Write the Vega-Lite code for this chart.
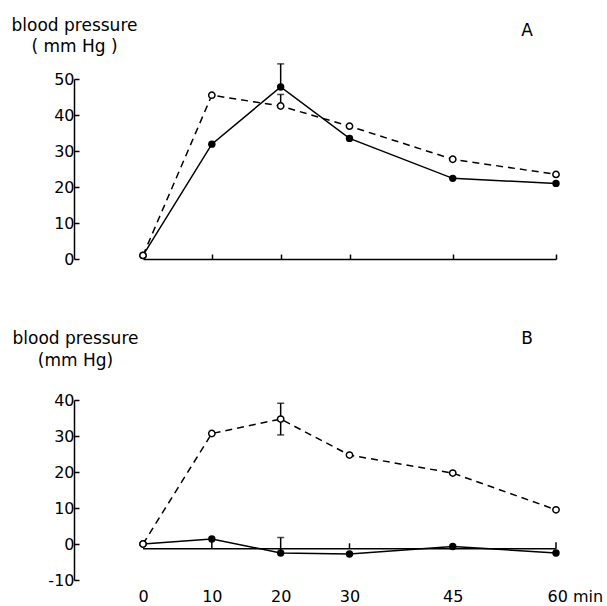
{
  "$schema": "https://vega.github.io/schema/vega-lite/v6.json",
  "padding": {"left": 11, "top": 16, "right": 0, "bottom": 0},
  "background": "white",
  "spacing": 62,
  "config": {
    "view": {"stroke": null},
    "font": "DejaVu Sans",
    "axis": {
      "grid": false,
      "domainColor": "black",
      "tickColor": "black",
      "labelColor": "black",
      "titleColor": "black",
      "labelFont": "DejaVu Sans",
      "labelFontSize": 16,
      "titleFont": "DejaVu Sans",
      "titleFontSize": 17,
      "titleFontWeight": "normal",
      "domainWidth": 1.5,
      "tickWidth": 1.5
    }
  },
  "datasets": {
    "a": [
      {"t": 0, "v": 1.0, "s": "filled"},
      {"t": 10, "v": 31.9, "s": "filled"},
      {"t": 20, "v": 47.8, "s": "filled"},
      {"t": 30, "v": 33.5, "s": "filled"},
      {"t": 45, "v": 22.4, "s": "filled"},
      {"t": 60, "v": 21.0, "s": "filled"},
      {"t": 0, "v": 1.0, "s": "open"},
      {"t": 10, "v": 45.5, "s": "open"},
      {"t": 20, "v": 42.5, "s": "open"},
      {"t": 30, "v": 36.9, "s": "open"},
      {"t": 45, "v": 27.7, "s": "open"},
      {"t": 60, "v": 23.5, "s": "open"}
    ],
    "aerr": [
      {"t": 20, "lo": 47.8, "hi": 54.2},
      {"t": 20, "lo": 42.5, "hi": 45.7}
    ],
    "acap": [
      {"t": 20, "v": 54.2},
      {"t": 20, "v": 45.7}
    ],
    "b": [
      {"t": 0, "v": 0.0, "s": "filled"},
      {"t": 10, "v": 1.4, "s": "filled"},
      {"t": 20, "v": -2.5, "s": "filled"},
      {"t": 30, "v": -2.8, "s": "filled"},
      {"t": 45, "v": -0.7, "s": "filled"},
      {"t": 60, "v": -2.5, "s": "filled"},
      {"t": 0, "v": 0.0, "s": "open"},
      {"t": 10, "v": 30.7, "s": "open"},
      {"t": 20, "v": 34.7, "s": "open"},
      {"t": 30, "v": 24.7, "s": "open"},
      {"t": 45, "v": 19.7, "s": "open"},
      {"t": 60, "v": 9.5, "s": "open"}
    ],
    "berr": [
      {"t": 20, "lo": 30.3, "hi": 39.1},
      {"t": 20, "lo": -2.5, "hi": 1.8},
      {"t": 10, "lo": -1.3, "hi": 1.4},
      {"t": 30, "lo": -1.3, "hi": 0.2},
      {"t": 60, "lo": -1.3, "hi": 0.5}
    ],
    "bcap": [
      {"t": 20, "v": 39.1},
      {"t": 20, "v": 30.3},
      {"t": 20, "v": 1.8}
    ],
    "bbase": [
      {"t0": 0, "t1": 60, "v": -1.3}
    ]
  },
  "vconcat": [
    {
      "width": 413,
      "height": 180,
      "encoding": {
        "x": {"field": "t", "type": "quantitative", "scale": {"domain": [0, 60]},
          "axis": {"values": [10, 20, 30, 45, 60], "labels": false, "tickSize": -5, "title": null}},
        "y": {"field": "v", "type": "quantitative", "scale": {"domain": [0, 50]},
          "axis": {"values": [0, 10, 20, 30, 40, 50], "offset": 69, "tickSize": -5, "labelPadding": 5,
            "labelExpr": "datum.value + ''",
            "title": ["blood pressure", "( mm Hg )"], "titleAngle": 0, "titleAlign": "center",
            "titleBaseline": "alphabetic", "titleX": 0, "titleY": -49, "titleLineHeight": 21}}
      },
      "layer": [
        {"data": {"name": "a"}, "transform": [{"filter": "datum.s == 'open'"}],
          "mark": {"type": "line", "color": "black", "strokeWidth": 1.5, "strokeDash": [7, 5]}},
        {"data": {"name": "a"}, "transform": [{"filter": "datum.s == 'filled'"}],
          "mark": {"type": "line", "color": "black", "strokeWidth": 1.5}},
        {"data": {"name": "aerr"}, "mark": {"type": "rule", "color": "black", "strokeWidth": 1.5},
          "encoding": {"y": {"field": "lo", "type": "quantitative"}, "y2": {"field": "hi"}}},
        {"data": {"name": "acap"}, "mark": {"type": "tick", "orient": "horizontal", "size": 7, "thickness": 1.5, "color": "black"}},
        {"data": {"name": "a"}, "transform": [{"filter": "datum.s == 'filled'"}],
          "mark": {"type": "point", "shape": "circle", "filled": true, "color": "black", "size": 55, "opacity": 1}},
        {"data": {"name": "a"}, "transform": [{"filter": "datum.s == 'open'"}],
          "mark": {"type": "point", "shape": "circle", "filled": true, "fill": "white", "stroke": "black", "strokeWidth": 1.5, "size": 40, "opacity": 1}},
        {"data": {"values": [{"t": 55.8, "v": 63.4, "txt": "A"}]},
          "mark": {"type": "text", "fontSize": 17, "font": "DejaVu Sans", "color": "black", "baseline": "middle", "align": "center"},
          "encoding": {"text": {"field": "txt"}}}
      ]
    },
    {
      "width": 413,
      "height": 180,
      "encoding": {
        "x": {"field": "t", "type": "quantitative", "scale": {"domain": [0, 60]},
          "axis": {"values": [0, 10, 20, 30, 45, 60], "domain": false, "ticks": false, "labelPadding": 8, "title": null,
            "labelExpr": "datum.value == 60 ? '60 min' : datum.label",
            "labelAlign": {"condition": {"test": "datum.value == 60", "value": "left"}, "value": "center"},
            "labelOffset": {"condition": {"test": "datum.value == 60", "value": -9}, "value": 0}}},
        "y": {"field": "v", "type": "quantitative", "scale": {"domain": [-10, 40]},
          "axis": {"values": [-10, 0, 10, 20, 30, 40], "offset": 69, "tickSize": -5, "labelPadding": 5,
            "labelExpr": "datum.value + ''",
            "title": ["blood pressure", "(mm Hg)"], "titleAngle": 0, "titleAlign": "center",
            "titleBaseline": "alphabetic", "titleX": 1, "titleY": -57, "titleLineHeight": 22}}
      },
      "layer": [
        {"data": {"name": "bbase"}, "mark": {"type": "rule", "color": "black", "strokeWidth": 1.5},
          "encoding": {"x": {"field": "t0", "type": "quantitative"}, "x2": {"field": "t1"}, "y": {"field": "v", "type": "quantitative"}}},
        {"data": {"name": "b"}, "transform": [{"filter": "datum.s == 'open'"}],
          "mark": {"type": "line", "color": "black", "strokeWidth": 1.5, "strokeDash": [7, 5]}},
        {"data": {"name": "b"}, "transform": [{"filter": "datum.s == 'filled'"}],
          "mark": {"type": "line", "color": "black", "strokeWidth": 1.5}},
        {"data": {"name": "berr"}, "mark": {"type": "rule", "color": "black", "strokeWidth": 1.5},
          "encoding": {"y": {"field": "lo", "type": "quantitative"}, "y2": {"field": "hi"}}},
        {"data": {"name": "bcap"}, "mark": {"type": "tick", "orient": "horizontal", "size": 7, "thickness": 1.5, "color": "black"}},
        {"data": {"name": "b"}, "transform": [{"filter": "datum.s == 'filled'"}],
          "mark": {"type": "point", "shape": "circle", "filled": true, "color": "black", "size": 55, "opacity": 1}},
        {"data": {"name": "b"}, "transform": [{"filter": "datum.s == 'open'"}],
          "mark": {"type": "point", "shape": "circle", "filled": true, "fill": "white", "stroke": "black", "strokeWidth": 1.5, "size": 40, "opacity": 1}},
        {"data": {"values": [{"t": 55.8, "v": 57.0, "txt": "B"}]},
          "mark": {"type": "text", "fontSize": 17, "font": "DejaVu Sans", "color": "black", "baseline": "middle", "align": "center"},
          "encoding": {"text": {"field": "txt"}}}
      ]
    }
  ]
}
